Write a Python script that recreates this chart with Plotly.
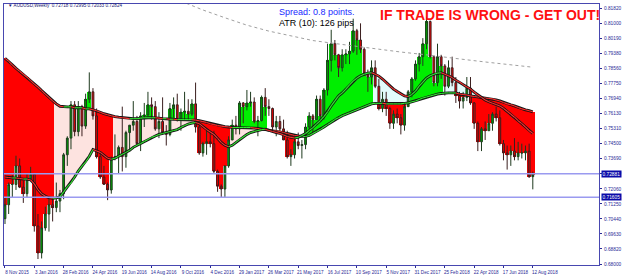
import plotly.graph_objects as go
import pandas as pd

# ---------------- data ----------------
week_start = pd.date_range("2015-11-08", periods=145, freq="7D")

opens = [0.7045,0.7120,0.7230,0.7230,0.7330,0.7215,0.7180,0.7260,0.7285,0.7005,
         0.6860,0.6995,0.7070,0.7120,0.7105,0.7140,0.7180,0.7390,0.7480,0.7660,
         0.7515,0.7650,0.7545,0.7690,0.7730,0.7600,0.7380,0.7270,0.7230,0.7200,
         0.7370,0.7380,0.7430,0.7380,0.7510,0.7550,0.7570,0.7450,0.7600,0.7605,
         0.7660,0.7650,0.7530,0.7570,0.7510,0.7500,0.7640,0.7660,0.7580,0.7620,
         0.7625,0.7610,0.7665,0.7540,0.7400,0.7450,0.7460,0.7450,0.7300,0.7220,
         0.7205,0.7330,0.7470,0.7550,0.7530,0.7670,0.7650,0.7670,0.7675,0.7570,
         0.7575,0.7700,0.7650,0.7640,0.7540,0.7570,0.7530,0.7470,0.7380,0.7390,
         0.7460,0.7440,0.7445,0.7540,0.7600,0.7580,0.7690,0.7600,0.7740,0.7900,
         0.7990,0.7930,0.7860,0.7930,0.7935,0.7950,0.8060,0.8010,0.7960,0.7830,
         0.7810,0.7860,0.7760,0.7640,0.7690,0.7640,0.7560,0.7610,0.7590,0.7550,
         0.7650,0.7730,0.7800,0.7880,0.7920,0.7990,0.8110,0.7920,0.7780,0.7920,
         0.7870,0.7760,0.7860,0.7780,0.7710,0.7680,0.7700,0.7750,0.7670,0.7560,
         0.7460,0.7530,0.7520,0.7560,0.7610,0.7590,0.7450,0.7400,0.7390,0.7410,
         0.7380,0.7400,0.7400,0.7410,0.72718]
highs = [0.7160,0.7240,0.7280,0.7385,0.7370,0.7250,0.7290,0.7325,0.7290,0.7070,
         0.7030,0.7110,0.7160,0.7150,0.7240,0.7200,0.7400,0.7490,0.7680,0.7680,
         0.7680,0.7660,0.7720,0.7835,0.7750,0.7640,0.7410,0.7330,0.7240,0.7380,
         0.7500,0.7440,0.7650,0.7520,0.7550,0.7680,0.7600,0.7620,0.7670,0.7730,
         0.7700,0.7680,0.7620,0.7700,0.7550,0.7670,0.7700,0.7720,0.7640,0.7730,
         0.7690,0.7690,0.7780,0.7570,0.7460,0.7530,0.7520,0.7520,0.7310,0.7230,
         0.7330,0.7490,0.7580,0.7600,0.7680,0.7675,0.7740,0.7730,0.7700,0.7600,
         0.7710,0.7750,0.7690,0.7645,0.7600,0.7600,0.7580,0.7520,0.7420,0.7480,
         0.7510,0.7470,0.7560,0.7620,0.7610,0.7710,0.7710,0.7750,0.7990,0.8065,
         0.8010,0.7935,0.7960,0.7960,0.8000,0.8125,0.8070,0.8100,0.7970,0.7850,
         0.7900,0.7900,0.7800,0.7730,0.7730,0.7650,0.7630,0.7640,0.7610,0.7670,
         0.7740,0.7810,0.7900,0.7940,0.8020,0.8136,0.8115,0.7925,0.7990,0.7930,
         0.7880,0.7900,0.7920,0.7810,0.7730,0.7730,0.7810,0.7810,0.7675,0.7570,
         0.7540,0.7570,0.7610,0.7620,0.7650,0.7630,0.7470,0.7440,0.7440,0.7480,
         0.7460,0.7450,0.7440,0.7450,0.72995]
lows = [0.7016,0.7070,0.7160,0.7200,0.7210,0.7130,0.7160,0.7250,0.6975,0.6827,
        0.6830,0.6980,0.6975,0.7030,0.7080,0.7080,0.7150,0.7330,0.7420,0.7490,
        0.7490,0.7490,0.7530,0.7670,0.7580,0.7370,0.7260,0.7230,0.7145,0.7180,
        0.7360,0.7290,0.7300,0.7320,0.7420,0.7520,0.7440,0.7410,0.7540,0.7600,
        0.7580,0.7520,0.7480,0.7500,0.7440,0.7490,0.7590,0.7570,0.7520,0.7580,
        0.7580,0.7600,0.7510,0.7390,0.7380,0.7390,0.7430,0.7290,0.7190,0.7160,
        0.7160,0.7320,0.7470,0.7500,0.7500,0.7560,0.7630,0.7650,0.7560,0.7490,
        0.7570,0.7600,0.7600,0.7520,0.7490,0.7510,0.7470,0.7370,0.7330,0.7370,
        0.7420,0.7370,0.7420,0.7520,0.7510,0.7580,0.7570,0.7580,0.7710,0.7840,
        0.7900,0.7810,0.7840,0.7880,0.7880,0.7940,0.7930,0.7940,0.7820,0.7730,
        0.7770,0.7750,0.7630,0.7620,0.7600,0.7530,0.7530,0.7560,0.7500,0.7520,
        0.7650,0.7700,0.7790,0.7840,0.7870,0.7960,0.7910,0.7760,0.7760,0.7800,
        0.7710,0.7750,0.7760,0.7670,0.7640,0.7640,0.7680,0.7660,0.7530,0.7410,
        0.7410,0.7470,0.7520,0.7520,0.7570,0.7440,0.7360,0.7310,0.7330,0.7360,
        0.7360,0.7370,0.7360,0.7265,0.72033]
closes = [0.7120,0.7230,0.7230,0.7330,0.7215,0.7180,0.7260,0.7285,0.7005,0.6860,
          0.6995,0.7070,0.7120,0.7105,0.7140,0.7180,0.7390,0.7480,0.7660,0.7515,
          0.7650,0.7545,0.7690,0.7730,0.7600,0.7380,0.7270,0.7230,0.7200,0.7370,
          0.7380,0.7430,0.7380,0.7510,0.7550,0.7570,0.7450,0.7600,0.7605,0.7660,
          0.7650,0.7530,0.7570,0.7510,0.7500,0.7640,0.7660,0.7580,0.7620,0.7625,
          0.7610,0.7665,0.7540,0.7400,0.7450,0.7460,0.7450,0.7300,0.7220,0.7205,
          0.7330,0.7470,0.7550,0.7530,0.7670,0.7650,0.7670,0.7675,0.7570,0.7575,
          0.7700,0.7650,0.7640,0.7540,0.7570,0.7530,0.7470,0.7380,0.7390,0.7460,
          0.7440,0.7445,0.7540,0.7600,0.7580,0.7690,0.7600,0.7740,0.7900,0.7990,
          0.7930,0.7860,0.7930,0.7935,0.7950,0.8060,0.8010,0.7960,0.7830,0.7810,
          0.7860,0.7760,0.7640,0.7690,0.7640,0.7560,0.7610,0.7590,0.7550,0.7650,
          0.7730,0.7800,0.7880,0.7920,0.7990,0.8110,0.7920,0.7780,0.7920,0.7870,
          0.7760,0.7860,0.7780,0.7710,0.7680,0.7700,0.7750,0.7670,0.7560,0.7460,
          0.7530,0.7520,0.7560,0.7610,0.7590,0.7450,0.7400,0.7390,0.7410,0.7380,
          0.7400,0.7400,0.7410,0.7272,0.72824]

ma_fast = [0.7270,0.7267,0.7265,0.7265,0.7262,0.7259,0.7259,0.7254,0.7233,0.7201,
           0.7179,0.7166,0.7158,0.7155,0.7157,0.7163,0.7190,0.7217,0.7238,0.7270,
           0.7302,0.7329,0.7350,0.7382,0.7419,0.7411,0.7403,0.7387,0.7371,0.7366,
           0.7371,0.7382,0.7393,0.7403,0.7414,0.7430,0.7441,0.7451,0.7462,0.7473,
           0.7484,0.7492,0.7500,0.7505,0.7510,0.7516,0.7521,0.7526,0.7537,0.7548,
           0.7556,0.7561,0.7564,0.7558,0.7542,0.7526,0.7513,0.7500,0.7478,0.7457,
           0.7441,0.7433,0.7441,0.7457,0.7473,0.7486,0.7500,0.7510,0.7516,0.7521,
           0.7526,0.7528,0.7521,0.7516,0.7510,0.7505,0.7497,0.7489,0.7484,0.7481,
           0.7484,0.7494,0.7505,0.7521,0.7537,0.7556,0.7574,0.7596,0.7622,0.7654,
           0.7681,0.7708,0.7724,0.7745,0.7767,0.7788,0.7804,0.7817,0.7825,0.7831,
           0.7833,0.7825,0.7815,0.7799,0.7780,0.7761,0.7745,0.7732,0.7718,0.7708,
           0.7705,0.7716,0.7734,0.7761,0.7783,0.7804,0.7817,0.7825,0.7831,0.7833,
           0.7825,0.7817,0.7807,0.7793,0.7783,0.7769,0.7756,0.7745,0.7729,0.7713,
           0.7700,0.7686,0.7676,0.7668,0.7662,0.7654,0.7641,0.7625,0.7609,0.7593,
           0.7574,0.7558,0.7540,0.7521,0.7505]
ma_slow = [0.7911,0.7895,0.7876,0.7857,0.7841,0.7825,0.7809,0.7791,0.7772,0.7756,
           0.7737,0.7718,0.7700,0.7681,0.7665,0.7652,0.7649,0.7649,0.7649,0.7644,
           0.7644,0.7644,0.7638,0.7638,0.7633,0.7628,0.7620,0.7612,0.7606,0.7601,
           0.7596,0.7593,0.7590,0.7588,0.7585,0.7585,0.7585,0.7588,0.7590,0.7590,
           0.7590,0.7590,0.7588,0.7585,0.7585,0.7582,0.7582,0.7580,0.7580,0.7580,
           0.7580,0.7580,0.7577,0.7574,0.7569,0.7564,0.7558,0.7553,0.7548,0.7545,
           0.7542,0.7540,0.7537,0.7537,0.7537,0.7537,0.7537,0.7537,0.7534,0.7532,
           0.7529,0.7526,0.7524,0.7521,0.7518,0.7516,0.7510,0.7505,0.7500,0.7494,
           0.7492,0.7489,0.7489,0.7494,0.7505,0.7516,0.7526,0.7540,0.7553,0.7566,
           0.7580,0.7590,0.7601,0.7609,0.7617,0.7625,0.7633,0.7641,0.7649,0.7657,
           0.7665,0.7668,0.7668,0.7668,0.7665,0.7665,0.7665,0.7665,0.7665,0.7668,
           0.7670,0.7676,0.7681,0.7689,0.7697,0.7702,0.7708,0.7713,0.7718,0.7721,
           0.7724,0.7724,0.7724,0.7724,0.7718,0.7716,0.7713,0.7708,0.7705,0.7702,
           0.7700,0.7697,0.7694,0.7692,0.7686,0.7681,0.7673,0.7665,0.7660,0.7654,
           0.7646,0.7638,0.7633,0.7628,0.7622]

long_ma_idx = [48,54,60,66,72,78,84,90,96,102,108,114,120,126,132,138,144]
long_ma = [0.8220,0.8172,0.8130,0.8090,0.8058,0.8031,0.8007,0.7991,0.7975,0.7959,
           0.7945,0.7932,0.7916,0.7903,0.7889,0.7876,0.7863]

x_tick_idx = [0,8,16,24,32,40,48,56,64,72,80,88,96,104,112,120,128,136,144]
x_tick_labels = ["8 Nov 2015","3 Jan 2016","28 Feb 2016","24 Apr 2016","19 Jun 2016",
                 "14 Aug 2016","9 Oct 2016","4 Dec 2016","29 Jan 2017","26 Mar 2017",
                 "21 May 2017","16 Jul 2017","10 Sep 2017","5 Nov 2017","31 Dec 2017",
                 "25 Feb 2018","22 Apr 2018","17 Jun 2018","12 Aug 2018"]
y_tick_labels = ["0.68000","0.68820","0.69630","0.70440","0.71250","0.72060","0.72880",
                 "0.73690","0.74500","0.75310","0.76130","0.76940","0.77750","0.78560",
                 "0.79380","0.80190","0.81000","0.81820"]
price_line = 0.72881
level_line = 0.71605
header = "\u25bc AUDUSD,Weekly  0.72718 0.72995 0.72033 0.72824"
spread_text = "Spread: 0.8 points."
atr_text = "ATR (10): 126 pips"
banner_text = "IF TRADE IS WRONG - GET OUT!"

# ---------------- derived drawing helpers ----------------
n = len(closes)
idx = list(range(n))

# pale band between the two averages
band_x, band_base, band_h, band_col = [], [], [], []
for i in idx:
    lo, hi = min(ma_fast[i], ma_slow[i]), max(ma_fast[i], ma_slow[i])
    band_x.append(i); band_base.append(lo); band_h.append(hi - lo)
    band_col.append("#e2fbfb" if ma_fast[i] > ma_slow[i] else "#fde3e0")

# trend histogram from slow average to close
hx, hbase, hh, hcol = [], [], [], []
for i in idx:
    rising = i > 0 and ma_fast[i] > ma_fast[i - 1]
    if rising and closes[i] > ma_slow[i]:
        hx.append(i); hbase.append(ma_slow[i]); hh.append(closes[i] - ma_slow[i]); hcol.append("#00ee00")
    elif (not rising) and closes[i] < ma_slow[i]:
        hx.append(i); hbase.append(ma_slow[i]); hh.append(closes[i] - ma_slow[i]); hcol.append("#ff0000")

fig = go.Figure()
fig.add_trace(go.Bar(x=band_x, y=band_h, base=band_base, width=1.0,
                     marker=dict(color=band_col, line=dict(width=0)), hoverinfo="skip"))
fig.add_trace(go.Bar(x=hx, y=hh, base=hbase, width=1.0,
                     marker=dict(color=hcol, line=dict(width=0)), hoverinfo="skip"))

def seg_traces(vals):
    up_x, up_y, dn_x, dn_y = [], [], [], []
    for i in range(1, n):
        if vals[i] >= vals[i - 1]:
            up_x += [i - 1, i, None]; up_y += [vals[i - 1], vals[i], None]
        else:
            dn_x += [i - 1, i, None]; dn_y += [vals[i - 1], vals[i], None]
    return up_x, up_y, dn_x, dn_y

for vals in (ma_slow, ma_fast):
    fig.add_trace(go.Scatter(x=idx, y=vals, mode="lines",
                             line=dict(color="#151515", width=2.8), hoverinfo="skip"))
    ux, uy, dx, dy = seg_traces(vals)
    fig.add_trace(go.Scatter(x=ux, y=uy, mode="lines", line=dict(color="#33ee33", width=1.1),
                             hoverinfo="skip"))
    fig.add_trace(go.Scatter(x=dx, y=dy, mode="lines", line=dict(color="#ff3030", width=1.1),
                             hoverinfo="skip"))

fig.add_trace(go.Candlestick(
    x=idx, open=opens, high=highs, low=lows, close=closes,
    increasing=dict(line=dict(color="#1e3a1e", width=1), fillcolor="#00a000"),
    decreasing=dict(line=dict(color="#3a1e1e", width=1), fillcolor="#ee0000"),
    hoverinfo="skip"))

fig.add_trace(go.Scatter(x=long_ma_idx, y=long_ma, mode="lines",
                         line=dict(color="#a0a0a0", width=1, dash="dot"), hoverinfo="skip"))

# horizontal price lines
for lvl in (price_line, level_line):
    fig.add_shape(type="line", xref="paper", x0=0, x1=1, yref="y", y0=lvl, y1=lvl,
                  line=dict(color="#9a9af0", width=1.5))

navy = "#2a2a96"
y_lo, y_hi = 0.67947, 0.82044
fig.update_layout(
    width=625, height=278, margin=dict(l=3, r=23, t=3, b=11),
    paper_bgcolor="white", plot_bgcolor="white", showlegend=False,
    barmode="overlay", bargap=0,
    font=dict(family="Liberation Sans, Arial, sans-serif"),
    xaxis=dict(range=[-0.27, 162.06], tickmode="array", tickvals=x_tick_idx,
               ticktext=x_tick_labels, tickfont=dict(size=4.6, color=navy),
               ticks="outside", ticklen=2, tickcolor=navy, showline=True,
               linecolor="#4848b0", linewidth=1, mirror=True, showgrid=False,
               zeroline=False, rangeslider=dict(visible=False),
               ticklabelshift=12, ticklabelstandoff=0),
    yaxis=dict(side="right", range=[y_lo, y_hi], tickmode="array",
               tickvals=[float(t) for t in y_tick_labels], ticktext=y_tick_labels,
               tickfont=dict(size=4.8, color=navy), ticks="outside", ticklen=2,
               tickcolor=navy, showline=True, linecolor="#4848b0", linewidth=1,
               mirror=True, showgrid=False, zeroline=False, ticklabelstandoff=1),
)

ann = []
for lvl in (price_line, level_line):
    ann.append(dict(xref="paper", x=1, xanchor="left", xshift=2, yref="y", y=lvl,
                    yanchor="middle", text="%.5f" % lvl, showarrow=False,
                    bgcolor="#0a0aa8", borderpad=0.5,
                    font=dict(size=4.8, color="white")))
ann.append(dict(xref="paper", yref="paper", x=0.004, y=0.994, xanchor="left", yanchor="middle",
                text=header, showarrow=False, font=dict(size=4.6, color="#1a1a70")))
ann.append(dict(xref="paper", yref="paper", x=0.526, y=0.970, xanchor="center", yanchor="middle",
                text=spread_text, showarrow=False, font=dict(size=9, color="#1a2aff")))
ann.append(dict(xref="paper", yref="paper", x=0.526, y=0.928, xanchor="center", yanchor="middle",
                text=atr_text, showarrow=False, font=dict(size=9, color="#000000")))
ann.append(dict(xref="paper", yref="paper", x=0.816, y=0.958, xanchor="center", yanchor="middle",
                text="<b>" + banner_text + "</b>", showarrow=False,
                font=dict(size=14, color="#ff1010")))
fig.update_layout(annotations=ann)

fig.write_html("out.html")
